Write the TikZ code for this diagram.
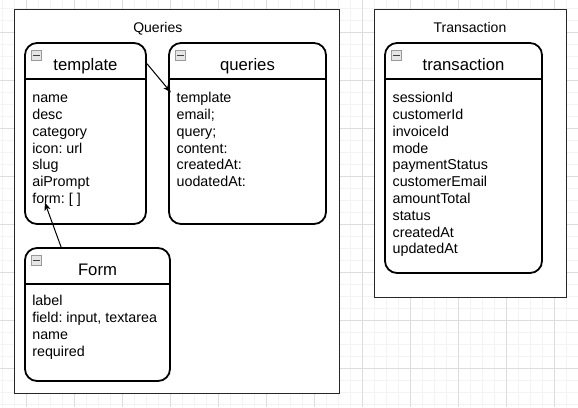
\documentclass[tikz,border=0pt]{standalone}
\usepackage{fontspec}
\setmainfont{Liberation Sans}
\usetikzlibrary{arrows.meta}
\frenchspacing

\definecolor{grillefine}{HTML}{F3F3F3}
\definecolor{grillegrosse}{HTML}{DDDDDD}

\tikzset{
  fine/.style={draw=grillefine, line width=1pt},
  grosse/.style={draw=grillegrosse, line width=0.8pt},
  conteneur/.style={draw=black!85, line width=1pt, fill=white, inner sep=0pt},
  table/.style={draw=black, line width=1.8pt, fill=white, rounded corners=12pt, inner sep=0pt},
  titre/.style={font=\fontsize{16.7}{20}\selectfont, inner sep=0pt, anchor=base},
  nomboite/.style={font=\fontsize{14}{17}\selectfont, inner sep=0pt, anchor=base},
  attr/.style={font=\fontsize{14.3}{17}\selectfont, inner sep=0pt, anchor=base west, text height=10.3pt, text depth=3pt},
  icone/.style={draw=gray!80, fill=gray!20, line width=0.7pt, minimum width=10pt, minimum height=10pt, inner sep=0pt},
  lien/.style={-{Stealth[length=8pt,width=6pt,inset=2pt]}, line width=1pt},
}

\begin{document}
\begin{tikzpicture}[x=1pt,y=-1pt]
    %fond quadrille
\useasboundingbox (0,0) rectangle (578,407);
\fill[white] (0,0) rectangle (578,407);
\foreach \i in {0,...,48} \draw[fine] ({2.3+12*\i},0) -- ({2.3+12*\i},407);
\foreach \j in {0,...,33} \draw[fine] (0,{8.3+12*\j}) -- (578,{8.3+12*\j});
\foreach \i in {0,...,11} \draw[grosse] ({26.3+48*\i},0) -- ({26.3+48*\i},407);
\foreach \j in {0,...,7} \draw[grosse] (0,{32.3+48*\j}) -- (578,{32.3+48*\j});

\node[conteneur, minimum width=325pt, minimum height=384pt] (queriesC) at (176.5,201) {};
\node[nomboite] (queriesL) at (157.8,32.7) {Queries};
\node[conteneur, minimum width=192pt, minimum height=288pt] (transactionC) at (470,153) {};
\node[nomboite] (transactionL) at (470,32.7) {Transaction};

\node[table, minimum width=121pt, minimum height=181pt] (template) at (85.5,133.5) {};
\node[table, minimum width=157pt, minimum height=181pt] (queries) at (247.5,133.5) {};
\node[table, minimum width=145pt, minimum height=133pt] (form) at (97.5,314.5) {};
\node[table, minimum width=157pt, minimum height=230pt] (transaction) at (463.5,158) {};

\foreach \b/\t in {template/template, queries/queries, form/Form, transaction/transaction}{
  \draw[line width=1.8pt] ([yshift=-37pt]\b.north west) -- ([yshift=-37pt]\b.north east);
  \node[icone] (\b-ic) at ([xshift=12.5pt,yshift=-13.7pt]\b.north west) {};
  \draw[gray!50!black, line width=1.3pt] ([xshift=2pt]\b-ic.west) -- ([xshift=-2pt]\b-ic.east);
  \node[titre] (\b-titre) at ([yshift=-28.6pt]\b.north) {\t};
}

\foreach \t [count=\i] in {name,desc,category,{icon: url},slug,aiPrompt,{form: [ ]}}
  \node[attr] (template-\i) at ([xshift=8pt,yshift={-60.5pt-16.8pt*(\i-1)}]template.north west) {\t};
\foreach \t [count=\i] in {template,{email;},{query;},{content:},{createdAt:},{uodatedAt:}}
  \node[attr] (queries-\i) at ([xshift=8.3pt,yshift={-60.5pt-16.8pt*(\i-1)}]queries.north west) {\t};
\foreach \t [count=\i] in {label,{field: input, textarea},name,required}
  \node[attr] (form-\i) at ([xshift=8pt,yshift={-58.8pt-16.8pt*(\i-1)}]form.north west) {\t};
\foreach \t [count=\i] in {sessionId,customerId,invoiceId,mode,paymentStatus,customerEmail,amountTotal,status,createdAt,updatedAt}
  \node[attr] (transaction-\i) at ([xshift=8.3pt,yshift={-60.5pt-16.8pt*(\i-1)}]transaction.north west) {\t};

\draw[lien] ([yshift=-21.5pt]template.north east) -- ([xshift=-5.5pt,yshift=10.2pt]queries-1.base west);
\draw[lien] ([xshift=37pt]form.north west) -- ([xshift=12.7pt,yshift=1pt]template-7.base west);
\end{tikzpicture}
\end{document}
